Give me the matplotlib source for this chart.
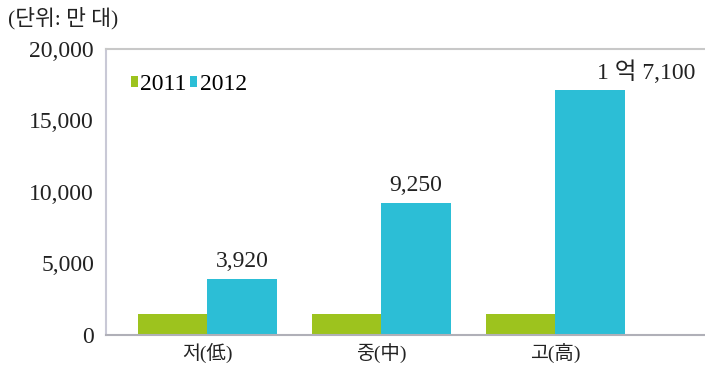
import matplotlib
matplotlib.use("Agg")
import matplotlib.pyplot as plt
import numpy as np

categories = ["저(低)", "중(中)", "고(高)"]
series_names = ["2011", "2012"]
values_2011 = [1450, 1450, 1450]
values_2012 = [3920, 9250, 17100]
labels_2012 = ["3,920", "9,250", "1 억 7,100"]
yticks = [0, 5000, 10000, 15000, 20000]
ytick_labels = ["0", "5,000", "10,000", "15,000", "20,000"]
unit_label = "(단위: 만 대)"

FONT = ["Liberation Serif", "Noto Sans CJK KR", "DejaVu Sans"]
plt.rcParams["font.family"] = FONT

green = "#9DC31E"
blue = "#2CBED6"

fig = plt.figure(figsize=(7.05, 3.67), dpi=100)
ax = fig.add_axes([0.151, 0.0872, 0.849, 0.7793])

x = np.arange(len(categories))
w = 0.4
ax.bar(x - w / 2, values_2011, w, color=green, label=series_names[0], zorder=2)
bars = ax.bar(x + w / 2, values_2012, w, color=blue, label=series_names[1], zorder=2)

offsets = [0, 0, 40]
for b, lab, off in zip(bars, labels_2012, offsets):
    ax.annotate(lab, (b.get_x() + b.get_width() / 2, b.get_height()),
                xytext=(off, 5), textcoords="offset points",
                ha="center", va="bottom", fontsize=17, color="#222222")

ax.set_ylim(0, 20000)
ax.set_xlim(-0.58, 2.86)
ax.set_yticks(yticks)
ax.set_yticklabels(ytick_labels, fontsize=17, color="#222222")
ax.set_xticks(x)
ax.set_xticklabels(categories, fontsize=14, color="#222222")
ax.tick_params(axis="both", length=0)
ax.tick_params(axis="y", pad=9)
ax.tick_params(axis="x", pad=6)

ax.spines["right"].set_visible(False)
ax.spines["left"].set_color("#C9C9D6")
ax.spines["top"].set_color("#C8C8C8")
ax.spines["bottom"].set_color("#B0B0B8")
for s in ["left", "top", "bottom"]:
    ax.spines[s].set_linewidth(1.5)

leg = ax.legend(loc="upper left", bbox_to_anchor=(0.025, 0.945), ncol=2,
                frameon=False, fontsize=17, handlelength=0.3, handleheight=0.3,
                handletextpad=0.1, columnspacing=0.15, borderaxespad=0)

fig.text(8 / 705, 1 - 18 / 367, unit_label, fontsize=15.5, va="center", ha="left",
         color="#222222")

fig.savefig("out.png", dpi=100)
